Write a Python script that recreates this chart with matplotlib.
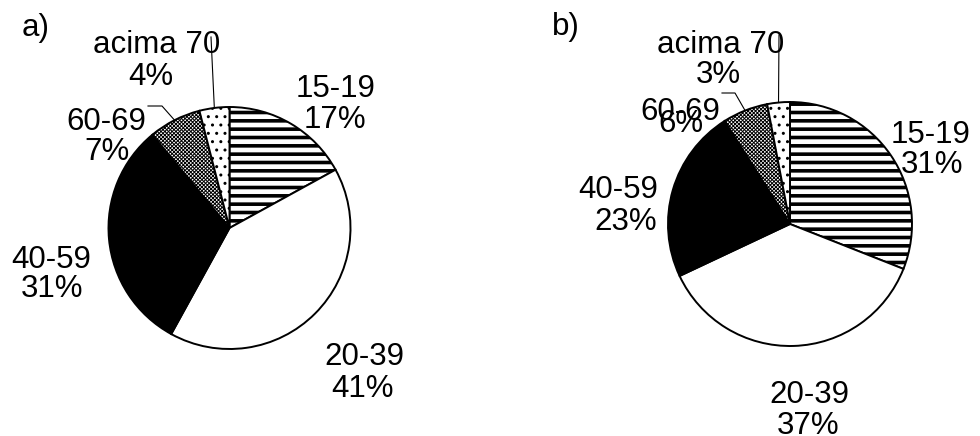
import matplotlib
matplotlib.use("Agg")
import matplotlib.pyplot as plt
import numpy as np

# ---------------------------
# Data
# ---------------------------
categories = ["15-19", "20-39", "40-59", "60-69", "acima 70"]
pct_a = [17, 41, 31, 7, 4]
pct_b = [31, 37, 23, 6, 3]

# ---------------------------
# Styles / layout (pixel coordinates, y measured from top)
# ---------------------------
W, H = 980, 436
face = ["white", "white", "black", "white", "white"]
hatches = ["--", None, None, "xxxxxxxxx", ".."]
hatch_lw = [2.6, 1.0, 1.0, 0.7, 1.0]

center_a, radius_a = (229.5, 228), 121
center_b, radius_b = (790, 224), 122

# text baselines: (x centre, baseline y) for category line and percent line
cat_pos_a = [(336, 97), (364, 365), (51, 268), (106, 130), (157, 53)]
pct_pos_a = [(335, 128), (362, 397), (52, 297), (107, 160), (151, 85)]
cat_pos_b = [(931, 143), (809, 403), (618, 198), (680, 120), (721, 53)]
pct_pos_b = [(932, 173), (808, 434), (626, 230), (681, 132), (718, 83)]

# leader lines (elbow points after the wedge edge), index -> points
leaders_a = {4: [(211, 37)], 3: [(162, 106), (148, 106)]}
leaders_b = {4: [(779, 35)], 3: [(735, 93), (722, 93)]}

FONT = ["Liberation Sans", "DejaVu Sans"]
FS = 22.5


def px(x, y):
    return x, H - y


def draw_pie(ax, values, center, radius, cat_pos, pct_pos, leaders):
    wedges, _ = ax.pie(values, colors=face, startangle=90, counterclock=False,
                       center=px(*center), radius=radius,
                       wedgeprops=dict(edgecolor="black", linewidth=1.4))
    for w, h, lw in zip(wedges, hatches, hatch_lw):
        if h:
            w.set_hatch(h)
            if hasattr(w, "set_hatch_linewidth"):
                w.set_hatch_linewidth(lw)
            else:
                w._hatch_linewidth = lw
    for i, (cat, p) in enumerate(zip(categories, values)):
        ax.text(*px(*cat_pos[i]), cat, ha="center", va="baseline",
                fontsize=FS, family=FONT)
        ax.text(*px(*pct_pos[i]), f"{p}%", ha="center", va="baseline",
                fontsize=FS, family=FONT)
    for i, pts in leaders.items():
        w = wedges[i]
        mid = np.deg2rad((w.theta1 + w.theta2) / 2)
        cx, cy = px(*center)
        xs = [cx + radius * np.cos(mid)] + [px(*p)[0] for p in pts]
        ys = [cy + radius * np.sin(mid)] + [px(*p)[1] for p in pts]
        ax.plot(xs, ys, color="black", linewidth=0.8)


fig = plt.figure(figsize=(W / 100, H / 100), dpi=100)
ax = fig.add_axes([0, 0, 1, 1])
draw_pie(ax, pct_a, center_a, radius_a, cat_pos_a, pct_pos_a, leaders_a)
draw_pie(ax, pct_b, center_b, radius_b, cat_pos_b, pct_pos_b, leaders_b)

ax.text(*px(22, 36), "a)", ha="left", va="baseline", fontsize=FS, family=FONT)
ax.text(*px(552, 35), "b)", ha="left", va="baseline", fontsize=FS, family=FONT)

ax.set_xlim(0, W)
ax.set_ylim(0, H)
ax.set_aspect("equal")
ax.axis("off")

fig.savefig("out.png", dpi=100)
